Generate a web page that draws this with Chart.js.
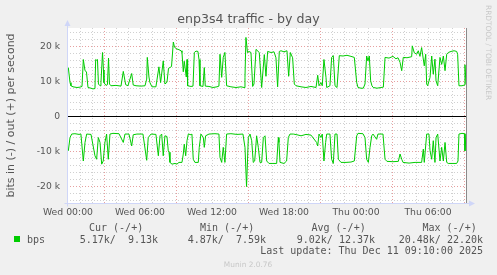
<!DOCTYPE html>
<html>
<head>
<meta charset="utf-8">
<script src="https://cdn.jsdelivr.net/npm/chart.js@4/dist/chart.umd.min.js"></script>
<style>
  html, body { margin: 0; padding: 0; background: #f0f0f0; }
  canvas { display: block; }
</style>
</head>
<body>
<canvas id="graph" width="497" height="275"></canvas>
<script>
// Hours since Wed 00:00, values in kbit/s (out = +, in = -)
const outHours = [0.03, 0.17, 0.25, 0.42, 0.75, 1.0, 1.17, 1.28, 1.42, 1.54, 1.67, 1.92, 2.08, 2.25, 2.31, 2.38, 2.46, 2.54, 2.67, 2.75,
    2.88, 2.96, 3.0, 3.17, 3.29, 3.38, 3.46, 3.58, 4.0, 4.42, 4.61, 4.81, 5.0, 5.31, 5.44, 5.67, 6.08, 6.42, 6.56, 6.61,
    6.75, 6.83, 7.0, 7.33, 7.58, 7.72, 7.94, 8.08, 8.25, 8.38, 8.5, 8.63, 8.78, 8.88, 9.08, 9.25, 9.42, 9.5, 9.61, 9.69,
    9.86, 9.92, 9.97, 10.25, 10.42, 10.53, 10.67, 10.83, 10.92, 11.0, 11.25, 11.36, 11.44, 11.75, 12.08, 12.42, 12.58, 12.67, 12.81, 12.94,
    13.08, 13.22, 13.58, 14.0, 14.42, 14.67, 14.75, 14.83, 14.96, 15.08, 15.25, 15.39, 15.5, 15.67, 15.94, 16.04, 16.14, 16.36, 16.5, 16.64,
    16.92, 17.17, 17.33, 17.47, 17.61, 17.75, 18.0, 18.25, 18.39, 18.53, 18.72, 18.86, 19.0, 19.42, 19.83, 20.25, 20.67, 20.81, 20.92, 21.08,
    21.19, 21.33, 21.5, 21.56, 21.83, 21.97, 22.11, 22.25, 22.42, 22.61, 22.92, 23.25, 23.58, 23.86, 24.06, 24.17, 24.42, 24.61, 24.75, 24.89,
    25.0, 25.11, 25.22, 25.33, 25.44, 25.75, 26.08, 26.28, 26.42, 26.75, 27.08, 27.33, 27.5, 27.67, 27.81, 27.94, 28.25, 28.64, 28.69, 28.86,
    29.06, 29.19, 29.33, 29.47, 29.69, 29.81, 29.89, 29.97, 30.17, 30.31, 30.44, 30.58, 30.67, 30.81, 31.0, 31.14, 31.28, 31.42, 31.56, 31.69,
    31.92, 32.17, 32.39, 32.47, 32.58, 32.83, 33.03, 33.08, 33.17, 33.33];
const outKbps = [13.7, 9.4, 8.5, 8.2, 8.0, 8.1, 8.3, 16.0, 12.8, 12.5, 8.0, 7.8, 7.6, 7.7, 16.0, 15.8, 16.0, 9.0, 8.5, 9.5,
    18.0, 13.0, 9.4, 8.6, 8.8, 16.4, 9.0, 8.5, 8.6, 8.4, 12.6, 8.8, 8.5, 12.0, 8.7, 8.5, 8.4, 8.5, 10.4, 16.6,
    11.0, 9.4, 8.2, 8.2, 13.9, 9.4, 15.6, 9.0, 9.5, 13.5, 13.7, 14.0, 21.0, 19.5, 19.0, 18.8, 18.5, 18.0, 12.5, 15.5,
    11.0, 16.0, 8.5, 8.3, 8.4, 18.0, 18.4, 18.3, 16.0, 8.5, 8.3, 13.7, 8.4, 8.3, 8.0, 8.2, 8.4, 17.5, 10.9, 16.6,
    18.0, 8.5, 8.2, 8.0, 8.2, 8.0, 10.9, 22.3, 18.0, 18.3, 18.0, 8.3, 9.0, 18.9, 18.0, 13.0, 8.0, 17.4, 11.2, 18.3,
    18.0, 18.2, 16.5, 8.2, 18.3, 18.5, 18.2, 18.5, 11.2, 18.0, 16.5, 9.0, 8.5, 8.2, 8.0, 8.3, 8.0, 11.5, 8.5, 9.4,
    8.5, 16.0, 10.9, 8.0, 8.5, 16.6, 17.1, 8.5, 8.0, 17.1, 17.0, 17.2, 16.9, 16.6, 9.4, 8.0, 7.8, 7.8, 9.0, 17.0,
    15.6, 17.0, 9.9, 8.5, 8.0, 7.8, 8.0, 8.1, 16.6, 16.4, 16.9, 16.2, 16.5, 15.2, 12.8, 16.6, 16.5, 16.8, 19.9, 17.9,
    17.5, 18.5, 16.9, 19.4, 14.2, 17.5, 9.0, 8.5, 10.9, 17.0, 11.8, 16.1, 9.9, 8.5, 16.6, 14.6, 17.0, 12.8, 17.5, 18.0,
    18.3, 18.5, 18.3, 17.5, 8.5, 8.5, 8.7, 14.5, 9.0, 9.5];

const inHours = [0.03, 0.17, 0.31, 0.58, 0.92, 1.08, 1.28, 1.42, 1.56, 1.92, 2.25, 2.39, 2.53, 2.67, 2.81, 2.94, 3.08, 3.22, 3.36, 3.5,
    3.75, 4.25, 4.61, 4.75, 5.08, 5.31, 5.44, 5.75, 6.25, 6.56, 6.69, 6.92, 7.33, 7.53, 7.67, 7.81, 7.94, 8.08, 8.25, 8.36,
    8.42, 8.5, 8.67, 8.92, 9.08, 9.25, 9.5, 9.61, 9.69, 9.81, 9.92, 10.03, 10.25, 10.33, 10.44, 10.58, 10.86, 10.94, 11.08, 11.28,
    11.36, 11.47, 11.75, 12.25, 12.58, 12.67, 12.81, 12.94, 13.08, 13.22, 13.58, 14.08, 14.58, 14.75, 14.88, 15.03, 15.17, 15.31, 15.44, 15.56,
    15.72, 15.86, 16.0, 16.14, 16.28, 16.42, 16.56, 16.75, 17.08, 17.39, 17.53, 17.58, 17.67, 18.0, 18.22, 18.36, 18.5, 18.78, 19.08, 19.42,
    19.83, 20.25, 20.72, 20.81, 20.92, 21.08, 21.19, 21.33, 21.47, 21.56, 21.83, 21.97, 22.11, 22.25, 22.42, 22.53, 22.75, 23.17, 23.58, 23.86,
    24.06, 24.17, 24.58, 24.75, 24.89, 25.03, 25.17, 25.31, 25.42, 25.72, 25.83, 26.25, 26.42, 26.58, 27.08, 27.53, 27.67, 27.81, 27.92, 28.42,
    28.92, 29.47, 29.61, 29.69, 29.89, 30.08, 30.17, 30.31, 30.44, 30.58, 30.67, 30.81, 31.0, 31.14, 31.28, 31.42, 31.56, 31.69, 32.08, 32.39,
    32.5, 32.58, 32.83, 33.03, 33.08, 33.17, 33.33];
const inKbps = [-10.1, -6.3, -5.3, -5.2, -5.4, -5.3, -13.0, -7.7, -5.3, -5.4, -11.5, -12.5, -6.3, -7.7, -13.9, -13.0, -7.7, -5.3, -12.5, -5.3,
    -5.1, -5.2, -7.7, -5.3, -5.3, -8.7, -5.5, -5.3, -5.3, -12.8, -6.3, -5.3, -5.4, -11.5, -5.8, -5.3, -11.5, -5.8, -6.0, -10.1,
    -10.5, -13.4, -13.9, -13.7, -13.9, -13.4, -13.4, -11.0, -8.2, -11.5, -7.2, -5.3, -5.5, -5.3, -12.5, -13.4, -13.4, -9.1, -5.3, -6.3,
    -9.1, -5.8, -5.3, -5.2, -5.3, -12.0, -13.4, -9.1, -13.4, -5.3, -5.2, -5.4, -5.3, -9.1, -20.3, -6.3, -5.3, -7.2, -13.4, -13.0,
    -5.8, -9.1, -13.4, -13.4, -6.3, -5.8, -13.0, -13.7, -13.7, -13.7, -6.3, -7.7, -13.4, -13.7, -13.0, -6.3, -5.3, -5.3, -5.5, -5.8,
    -5.4, -5.6, -7.7, -8.7, -5.3, -6.3, -5.3, -13.0, -7.7, -5.3, -5.3, -12.5, -13.7, -5.3, -5.3, -12.5, -13.4, -13.4, -13.3, -13.0,
    -5.8, -5.1, -5.2, -6.3, -12.5, -13.4, -9.1, -5.8, -5.3, -6.8, -5.3, -5.3, -12.5, -13.1, -13.2, -13.1, -11.0, -12.5, -13.4, -13.6,
    -13.4, -13.4, -9.6, -13.4, -5.3, -5.3, -10.1, -12.5, -7.2, -13.4, -6.3, -5.3, -13.0, -9.1, -13.0, -7.7, -13.4, -13.7, -13.7, -13.7,
    -13.0, -5.3, -5.1, -5.2, -10.1, -5.3, -5.5];

// Axis ticks
const yLabelTicks = [-20, -10, 0, 10, 20];
const xLabelHours = [0, 6, 12, 18, 24, 30];
const xLabels = ['Wed 00:00', 'Wed 06:00', 'Wed 12:00', 'Wed 18:00', 'Thu 00:00', 'Thu 06:00'];

// Legend table
const legendHeaders = ['Cur (-/+)', 'Min (-/+)', 'Avg (-/+)', 'Max (-/+)'];
const legendValues = ['5.17k/  9.13k', '4.87k/  7.59k', '9.02k/ 12.37k', '20.48k/ 22.20k'];
const lastUpdate = 'Last update: Thu Dec 11 09:10:00 2025';

const LINE_COLOR = '#00cc00';
const TEXT_COLOR = '#555555';
const AXIS_COLOR = '#cfd6f8';
const GRID_COLOR = '#d0d0d0';
const MGRID_COLOR = '#e6a0a0';

function toPoints(hours, values) {
    return hours.map((h, i) => ({x: h, y: values[i]}));
}

function crisp(v) {
    return Math.round(v) + 0.5;
}

// Draws the munin style background, grid, axes and all the text
const muninPlugin = {
    id: 'munin',
    beforeDraw(chart) {
        const ctx = chart.ctx;
        const area = chart.chartArea;
        const xs = chart.scales.x;
        const ys = chart.scales.y;

        ctx.save();
        ctx.fillStyle = '#f0f0f0';
        ctx.fillRect(0, 0, chart.width, chart.height);
        ctx.fillStyle = '#ffffff';
        ctx.fillRect(area.left, area.top, area.right - area.left, area.bottom - area.top);

        ctx.lineWidth = 1;
        ctx.setLineDash([1, 2]);

        // horizontal grid, every 2k, red every 10k
        for (let v = -24; v <= 24; v += 2) {
            if (v === 0) continue;
            const y = crisp(ys.getPixelForValue(v));
            ctx.strokeStyle = v % 10 === 0 ? MGRID_COLOR : GRID_COLOR;
            ctx.beginPath();
            ctx.moveTo(area.left, y);
            ctx.lineTo(area.right, y);
            ctx.stroke();
        }

        // vertical grid, every hour, red every 6 hours (offset 3h)
        for (let h = 1; h <= 33; h++) {
            const x = crisp(xs.getPixelForValue(h));
            if (x >= area.right - 1) continue;
            ctx.strokeStyle = (h - 3) % 6 === 0 ? MGRID_COLOR : GRID_COLOR;
            ctx.beginPath();
            ctx.moveTo(x, area.top);
            ctx.lineTo(x, area.bottom);
            ctx.stroke();
        }
        ctx.setLineDash([]);

        // zero line
        const y0 = crisp(ys.getPixelForValue(0));
        ctx.strokeStyle = '#000000';
        ctx.beginPath();
        ctx.moveTo(area.left, y0);
        ctx.lineTo(area.right, y0);
        ctx.stroke();
        ctx.restore();
    },
    afterDraw(chart) {
        const ctx = chart.ctx;
        const area = chart.chartArea;
        const xs = chart.scales.x;
        const ys = chart.scales.y;
        const left = crisp(area.left);
        const bottom = crisp(area.bottom);

        ctx.save();
        // axes + arrows
        ctx.strokeStyle = AXIS_COLOR;
        ctx.fillStyle = AXIS_COLOR;
        ctx.lineWidth = 1;
        ctx.beginPath();
        ctx.moveTo(left, area.top - 2);
        ctx.lineTo(left, bottom + 3);
        ctx.moveTo(left - 3, bottom);
        ctx.lineTo(area.right + 2, bottom);
        ctx.stroke();
        ctx.beginPath();
        ctx.moveTo(left - 3, area.top - 2);
        ctx.lineTo(left + 3, area.top - 2);
        ctx.lineTo(left, area.top - 8);
        ctx.closePath();
        ctx.fill();
        ctx.beginPath();
        ctx.moveTo(area.right + 2, bottom - 3);
        ctx.lineTo(area.right + 2, bottom + 3);
        ctx.lineTo(area.right + 8, bottom);
        ctx.closePath();
        ctx.fill();

        // right edge marker
        ctx.strokeStyle = '#8a8a8a';
        ctx.beginPath();
        ctx.moveTo(crisp(area.right) - 1, area.top);
        ctx.lineTo(crisp(area.right) - 1, area.bottom);
        ctx.stroke();

        // title
        ctx.fillStyle = TEXT_COLOR;
        ctx.font = '12.6px "DejaVu Sans"';
        ctx.textAlign = 'center';
        ctx.textBaseline = 'alphabetic';
        ctx.fillText('enp3s4 traffic - by day', 248.5, 23);

        // y tick labels
        ctx.font = '9.2px "DejaVu Sans"';
        ctx.textAlign = 'right';
        ctx.textBaseline = 'middle';
        yLabelTicks.forEach(v => {
            const label = v === 0 ? '0' : `${v} k`;
            ctx.fillText(label, area.left - 7, ys.getPixelForValue(v) + 1);
        });

        // x tick labels
        ctx.font = '9.3px "DejaVu Sans"';
        ctx.textAlign = 'center';
        xLabelHours.forEach((h, i) => {
            ctx.fillText(xLabels[i], xs.getPixelForValue(h), 212.5);
        });

        // y axis title
        ctx.save();
        ctx.translate(11, (area.top + area.bottom) / 2);
        ctx.rotate(-Math.PI / 2);
        ctx.font = '11px "DejaVu Sans"';
        ctx.textAlign = 'center';
        ctx.textBaseline = 'middle';
        ctx.fillText('bits in (-) / out (+) per second', 0, 0);
        ctx.restore();

        // rrdtool watermark
        ctx.save();
        ctx.translate(487.5, 5);
        ctx.rotate(Math.PI / 2);
        ctx.fillStyle = '#c8c8c8';
        ctx.font = '7.4px "DejaVu Sans"';
        ctx.textAlign = 'left';
        ctx.textBaseline = 'middle';
        ctx.fillText('RRDTOOL / TOBI OETIKER', 0, 0);
        ctx.restore();

        // legend
        ctx.font = '10px "DejaVu Sans Mono"';
        ctx.textBaseline = 'alphabetic';
        ctx.fillStyle = TEXT_COLOR;
        ctx.textAlign = 'left';
        const headerX = [89, 200, 311.5, 422.5];
        legendHeaders.forEach((t, i) => ctx.fillText(t, headerX[i], 231));
        ctx.fillText('bps', 27, 242.5);
        ctx.textAlign = 'right';
        const valueEnd = [158, 266, 375, 483];
        legendValues.forEach((t, i) => ctx.fillText(t, valueEnd[i], 242.5));
        ctx.fillText(lastUpdate, 483, 254);
        ctx.fillStyle = LINE_COLOR;
        ctx.fillRect(14, 236, 6, 6);

        ctx.fillStyle = '#c8c8c8';
        ctx.font = '7.4px "DejaVu Sans"';
        ctx.textAlign = 'center';
        ctx.fillText('Munin 2.0.76', 248, 267);
        ctx.restore();
    }
};

new Chart(document.getElementById('graph'), {
    type: 'line',
    data: {
        datasets: [{
            label: 'bps out',
            data: toPoints(outHours, outKbps),
            borderColor: LINE_COLOR,
            borderWidth: 1,
            pointRadius: 0,
            tension: 0
        }, {
            label: 'bps in',
            data: toPoints(inHours, inKbps),
            borderColor: LINE_COLOR,
            borderWidth: 1,
            pointRadius: 0,
            tension: 0
        }]
    },
    options: {
        responsive: false,
        animation: false,
        devicePixelRatio: 1,
        layout: {padding: {left: 67, top: 28, right: 30, bottom: 72}},
        scales: {
            x: {type: 'linear', min: -0.08, max: 33.25, display: false},
            y: {min: -25, max: 25, display: false}
        },
        plugins: {
            legend: {display: false},
            tooltip: {enabled: false}
        }
    },
    plugins: [muninPlugin]
});
</script>
</body>
</html>
